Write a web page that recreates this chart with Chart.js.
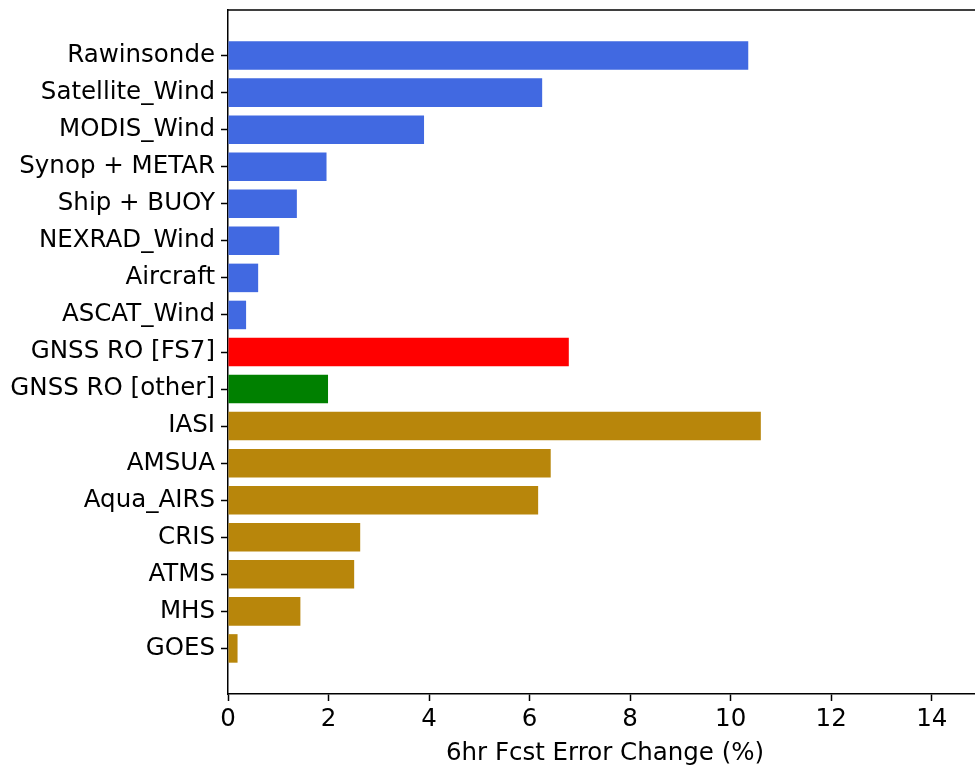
<!DOCTYPE html>
<html>
<head>
<meta charset="utf-8">
<script src="https://cdn.jsdelivr.net/npm/chart.js@4/dist/chart.umd.min.js"></script>
<style>
  html, body { margin: 0; padding: 0; overflow: hidden; background: #fff; }
  #wrap { position: absolute; left: 0; top: 0; width: 983px; height: 768px; }
</style>
</head>
<body>
<div id="wrap"><canvas id="c" width="983" height="768"></canvas></div>
<script>
const categories = [
  "Rawinsonde", "Satellite_Wind", "MODIS_Wind", "Synop + METAR", "Ship + BUOY",
  "NEXRAD_Wind", "Aircraft", "ASCAT_Wind", "GNSS RO [FS7]", "GNSS RO [other]",
  "IASI", "AMSUA", "Aqua_AIRS", "CRIS", "ATMS", "MHS", "GOES"
];
const values = [
  10.35, 6.25, 3.9, 1.96, 1.37,
  1.02, 0.6, 0.36, 6.78, 1.99,
  10.6, 6.42, 6.17, 2.63, 2.51, 1.44, 0.19
];
const groups = [
  "conv", "conv", "conv", "conv", "conv",
  "conv", "conv", "conv", "fs7", "gnss",
  "rad", "rad", "rad", "rad", "rad", "rad", "rad"
];
const groupColors = { conv: "#4169E1", fs7: "#FF0000", gnss: "#008000", rad: "#B8860B" };
const xTicks = [0, 2, 4, 6, 8, 10, 12, 14];
const xTitle = "6hr Fcst Error Change (%)";

const FONT = "'DejaVu Sans', sans-serif";
const FS = 24.5;

const framePlugin = {
  id: 'frame',
  afterDraw(chart) {
    const { ctx, chartArea: a } = chart;
    ctx.save();
    ctx.strokeStyle = '#000';
    ctx.lineWidth = 1.5;
    ctx.beginPath();
    ctx.moveTo(a.left, a.top);
    ctx.lineTo(a.right, a.top);
    ctx.lineTo(a.right, a.bottom);
    ctx.stroke();
    ctx.restore();
  }
};

new Chart(document.getElementById('c'), {
  type: 'bar',
  data: {
    datasets: [{
      data: values.map((v, i) => ({ x: v, y: i })),
      backgroundColor: groups.map(g => groupColors[g]),
      borderWidth: 0,
      categoryPercentage: 1.0,
      barPercentage: 0.77
    }]
  },
  options: {
    indexAxis: 'y',
    responsive: false,
    animation: false,
    layout: { padding: { top: 10, left: 0, right: 1, bottom: 0 } },
    plugins: { legend: { display: false }, tooltip: { enabled: false } },
    scales: {
      x: {
        type: 'linear',
        min: 0, max: 15,
        afterFit(s) { s.height = 74; },
        afterBuildTicks(s) { s.ticks = xTicks.map(v => ({ value: v })); },
        grid: { drawOnChartArea: false, tickLength: 7, tickWidth: 1.5, tickColor: '#000' },
        border: { color: '#000', width: 1.5 },
        ticks: { color: '#000', font: { family: FONT, size: FS }, padding: 4, maxRotation: 0 },
        title: { display: true, text: xTitle, color: '#000', font: { family: FONT, size: FS }, padding: { top: 0, bottom: 0 } }
      },
      y: {
        type: 'linear',
        reverse: true,
        offset: false,
        min: -1.23, max: 17.23,
        afterFit(s) { s.width = 228; s.paddingTop = 0; s.paddingBottom = 0; },
        afterBuildTicks(s) { s.ticks = categories.map((_, i) => ({ value: i })); },
        grid: { offset: false, drawOnChartArea: false, drawTicks: true, tickLength: 7, tickWidth: 1.5, tickColor: '#000' },
        border: { color: '#000', width: 1.5 },
        ticks: {
          color: '#000', font: { family: FONT, size: FS }, padding: 6,
          callback: (v) => categories[v] !== undefined ? categories[v] : ''
        }
      }
    }
  },
  plugins: [framePlugin]
});
</script>
</body>
</html>
